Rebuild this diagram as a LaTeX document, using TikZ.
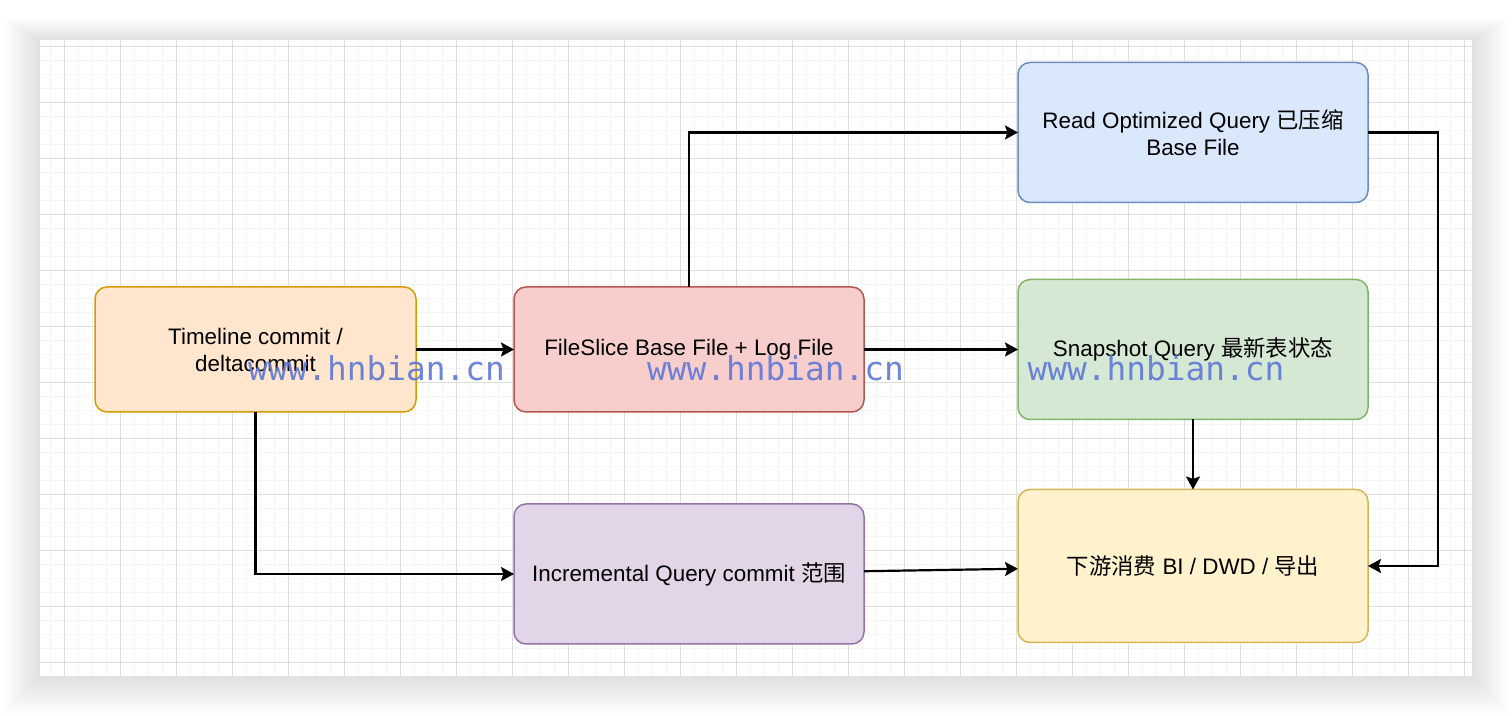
\documentclass[tikz,border=0pt]{standalone}
\usepackage{fontspec}
\setmainfont{Liberation Sans}
\newfontfamily\cjk{Noto Sans CJK SC}
\newfontfamily\wmfont{DejaVu Sans Mono}
\usepackage{xcolor}
\usetikzlibrary{positioning,arrows.meta}
\definecolor{orangefill}{HTML}{FFE6CC}
\definecolor{orangeline}{HTML}{D79B00}
\definecolor{redfill}{HTML}{F8CECC}
\definecolor{redline}{HTML}{B85450}
\definecolor{bluefill}{HTML}{DAE8FC}
\definecolor{blueline}{HTML}{6C8EBF}
\definecolor{greenfill}{HTML}{D5E8D4}
\definecolor{greenline}{HTML}{82B366}
\definecolor{purplefill}{HTML}{E1D5E7}
\definecolor{purpleline}{HTML}{9673A6}
\definecolor{yellowfill}{HTML}{FFF2CC}
\definecolor{yellowline}{HTML}{D6B656}
\definecolor{gridminor}{HTML}{F4F4F4}
\definecolor{gridmajor}{HTML}{DEDEDE}
\definecolor{wmblue}{HTML}{5F77D6}
\newcommand{\zh}[1]{{\cjk #1}}

\begin{document}
\begin{tikzpicture}[x=0.5pt,y=-0.5pt,
  box/.style={rounded corners=6pt,line width=0.75pt,outer sep=0pt,minimum width=175pt,minimum height=70pt,align=center,font=\fontsize{11.2pt}{13.5pt}\selectfont},
  tlbox/.style={box,draw=orangeline,fill=orangefill,minimum width=160.5pt,minimum height=62.5pt},
  fsbox/.style={box,draw=redline,fill=redfill,minimum height=62.5pt},
  robox/.style={box,draw=blueline,fill=bluefill},
  snapbox/.style={box,draw=greenline,fill=greenfill},
  incbox/.style={box,draw=purpleline,fill=purplefill},
  dnbox/.style={box,draw=yellowline,fill=yellowfill,minimum height=76.5pt},
  arr/.style={-{Stealth[length=6.5pt,width=7pt,inset=1.2pt]},line width=1.1pt},
  wm/.style={inner sep=0pt,text=wmblue,opacity=0.9,font=\wmfont\fontsize{16.4pt}{18pt}\selectfont}
]
  % page and grid
  \useasboundingbox (0,0) rectangle (1512,716);
  \fill[white] (0,0) rectangle (1512,716);
  \foreach \s in {1,...,30}
    \fill[black,opacity=0.0035] (40-\s*1.2,40-\s*0.7) rectangle (1472+\s*1.2,676+\s*1.3);
  \fill[white] (40,40) rectangle (1472,676);
  \foreach \x in {50,64,...,1470}
    \draw[gridminor,line width=0.5pt] (\x,40) -- (\x,676);
  \foreach \y in {47,61,...,675}
    \draw[gridminor,line width=0.5pt] (40,\y) -- (1472,\y);
  \foreach \x in {64,120,...,1470}
    \draw[gridmajor,line width=0.5pt] (\x,40) -- (\x,676);
  \foreach \y in {47,103,...,675}
    \draw[gridmajor,line width=0.5pt] (40,\y) -- (1472,\y);

  % nodes
  \node[tlbox] (tl) at (255.5,349.5) {Timeline commit /\\deltacommit};
  \node[fsbox,right=49pt of tl] (fs) {FileSlice Base File + Log File};
  \node[snapbox,right=77pt of fs] (snap) {Snapshot Query \zh{最新表状态}};
  \node[robox,above=38.5pt of snap] (ro) {Read Optimized Query \zh{已压缩}\\Base File};
  \node[dnbox,below=35pt of snap] (dn) {\zh{下游消费} BI / DWD / \zh{导出}};
  \node[incbox,below=46pt of fs] (inc) {Incremental Query commit \zh{范围}};

  % edges
  \draw[arr] (tl) -- (fs);
  \draw[arr] (tl.south) |- (inc);
  \draw[arr] (fs.north) |- (ro);
  \draw[arr] (fs) -- (snap);
  \draw[arr] (snap) -- (dn);
  \draw[arr] (inc) -- (dn);
  \draw[arr] (ro.east) -- ++(70,0) |- (dn.east);

  % watermark
  \node[wm] (wm1) at (376.5,368) {www.hnbian.cn};
  \node[wm] (wm2) at (775.5,368) {www.hnbian.cn};
  \node[wm] (wm3) at (1156,368) {www.hnbian.cn};
\end{tikzpicture}
\end{document}
